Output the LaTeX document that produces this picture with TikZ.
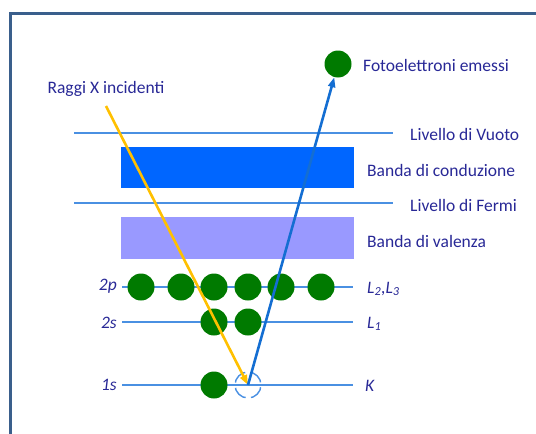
\documentclass[tikz,border=0pt]{standalone}
\usepackage{fontspec}
\setmainfont{Carlito}
\usepackage{tikz}
\usetikzlibrary{
	arrows.meta,
	positioning
}
\usepackage{xcolor}
\definecolor{framecol}{RGB}{58,95,140}
\definecolor{levelcol}{RGB}{74,144,226}
\definecolor{condcol}{RGB}{0,102,255}
\definecolor{valcol}{RGB}{153,153,255}
\definecolor{elcol}{RGB}{0,122,0}
\definecolor{raycol}{RGB}{255,192,0}
\definecolor{photocol}{RGB}{20,110,210}
\definecolor{txtcol}{RGB}{40,40,150}

\begin{document}
\begin{tikzpicture}[x=1pt,y=-1pt,>={Triangle[length=10pt,width=7pt]},
		electron/.style={circle,fill=elcol,minimum size=27pt,inner sep=0pt},
		hole/.style={circle,draw=levelcol,line width=1.4pt,dash pattern=on 15pt off 5.4pt,dash phase=17.7pt,minimum size=26pt,inner sep=0pt},
		level/.style={levelcol,line width=1.6pt},
		lbl/.style={text=txtcol,font=\fontsize{17.5}{19}\selectfont,inner sep=0pt},
		orb/.style={text=txtcol,font=\fontsize{17.5}{19}\selectfont\itshape,inner sep=0pt}]
		
		\useasboundingbox (0,0) rectangle (536,434);
		
		% Frame
		\draw[framecol,line width=3pt] (10.5,434) -- (10.5,13.5) -- (536,13.5);
		
		% Levels and bands
		\draw[level] (74,133) -- (393,133);
		\fill[condcol] (121,147) rectangle (354,188);
		\draw[level] (74,203) -- (393,203);
		\fill[valcol] (121,217) rectangle (354,259);
		\node[lbl,anchor=west] (vuoto) at (410,134) {Livello di Vuoto};
		\node[lbl,anchor=west] (cond) at (367,170) {Banda di conduzione};
		\node[lbl,anchor=west] (fermi) at (410,205) {Livello di Fermi};
		\node[lbl,anchor=west] (val) at (367,241) {Banda di valenza};
		
		% Core levels
		\draw[level] (122,287) -- (353,287);
		\draw[level] (122,322) -- (353,322);
		\draw[level] (122,385) -- (353,385);
		\node[orb,anchor=east] (l2p) at (117,286) {2p};
		\node[orb,anchor=east] (l2s) at (117,323) {2s};
		\node[orb,anchor=east] (l1s) at (117,385) {1s};
		\node[orb,anchor=west] (lL23) at (367,289) {L\textsubscript{2},L\textsubscript{3}};
		\node[orb,anchor=west] (lL1) at (367,324) {L\textsubscript{1}};
		\node[orb,anchor=west] (lK) at (365,386) {K};
		
		% Electrons
		\foreach \x [count=\i] in {141,181,214,248,281,321}
			\node[electron] (p\i) at (\x,287) {};
		\node[electron] (s1) at (214,322) {};
		\node[electron] (s2) at (248,322) {};
		\node[electron] (k1) at (214,385) {};
		\node[hole] (hole) at (248,385) {};
		
		% Photoemission
		\node[electron] (photo) at (338,64) {};
		\node[lbl,anchor=west] (emessi) at (363,65) {Fotoelettroni emessi};
		\coordinate (xray) at (106,106);
		\node[lbl,above=9pt of xray] (raggi) {Raggi X incidenti};
		\draw[raycol,line width=2.6pt,->] (xray) -- (hole.center);
		\draw[photocol,line width=2.6pt,->] (hole.center) -- (photo);
		
	\end{tikzpicture}
\end{document}
